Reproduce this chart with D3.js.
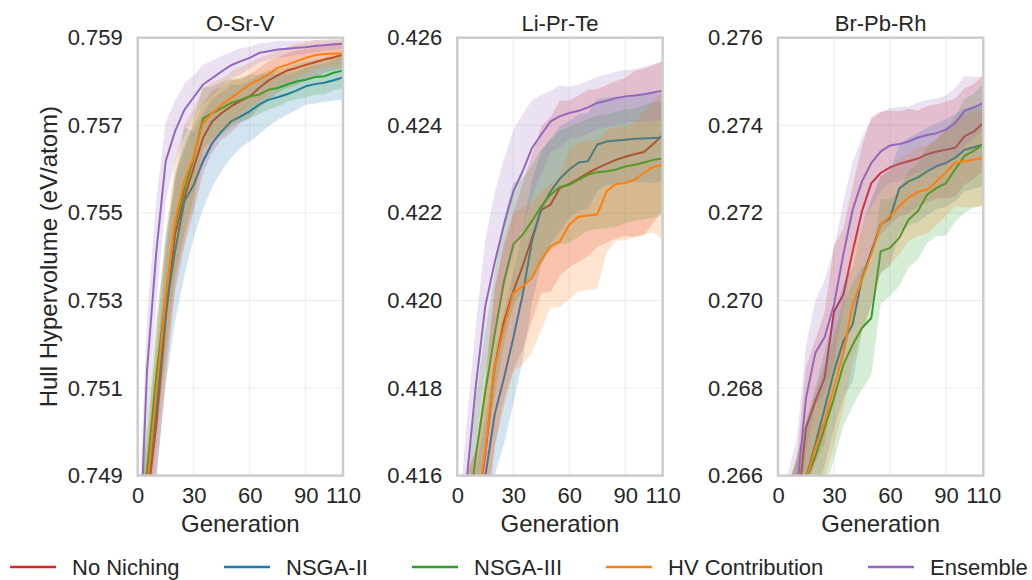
<!DOCTYPE html>
<html>
<head>
<meta charset="utf-8">
<script src="https://cdn.jsdelivr.net/npm/d3@7"></script>
<style>
  html, body { margin: 0; padding: 0; background: #ffffff; }
  svg { display: block; font-family: "Liberation Sans", Arial, sans-serif; }
</style>
</head>
<body>
<svg id="chart" width="1032" height="580"></svg>
<script>
// Generations at which the mean hull hypervolume is recorded
const generations = [0, 5, 10, 15, 20, 25, 30, 35, 40, 45, 50, 55, 60, 65, 70, 75, 80, 85, 90, 95, 100, 105, 110];

const methodNames = ["No Niching", "NSGA-II", "NSGA-III", "HV Contribution", "Ensemble"];
const methodColors = ["#d62728", "#1f77b4", "#2ca02c", "#ff7f0e", "#9467bd"];

const xTicks = [0, 30, 60, 90, 110];

// ---- O-Sr-V ----
const osrvTicks = [0.749, 0.751, 0.753, 0.755, 0.757, 0.759];
const osrvNoNiching = [0.7470, 0.7484, 0.75016, 0.75259, 0.7545, 0.75534, 0.75603, 0.75671, 0.75709, 0.75728, 0.75743, 0.75755, 0.75766, 0.75785, 0.75802, 0.75814, 0.75825, 0.75831, 0.75838, 0.75844, 0.7585, 0.75855, 0.75861];
const osrvNoNichingSpread = [0.0010, 0.0010, 0.0013, 0.0014, 0.0013, 0.0011, 0.0010, 0.0008, 0.0007, 0.0006, 0.0006, 0.0005, 0.0005, 0.00045, 0.00045, 0.0004, 0.0004, 0.0004, 0.00035, 0.00035, 0.0003, 0.0003, 0.0003];
const osrvNsga2 = [0.7470, 0.7487, 0.75054, 0.75275, 0.75412, 0.75526, 0.75564, 0.75618, 0.7566, 0.75686, 0.75709, 0.7572, 0.75732, 0.75747, 0.75758, 0.75764, 0.75771, 0.75779, 0.75789, 0.75794, 0.75797, 0.75803, 0.75809];
const osrvNsga2Spread = [0.0010, 0.0012, 0.0015, 0.0017, 0.0016, 0.0017, 0.0012, 0.0011, 0.0010, 0.0009, 0.00084, 0.00072, 0.00069, 0.00068, 0.0006, 0.00052, 0.00047, 0.00044, 0.00042, 0.00044, 0.00043, 0.00047, 0.0005];
const osrvNsga3 = [0.7470, 0.7491, 0.75131, 0.75305, 0.75473, 0.75553, 0.75625, 0.75716, 0.75728, 0.75739, 0.75751, 0.75758, 0.75766, 0.7577, 0.75781, 0.75785, 0.75793, 0.758, 0.75804, 0.7581, 0.75812, 0.7582, 0.75825];
const osrvNsga3Spread = [0.0010, 0.0012, 0.0013, 0.0013, 0.0012, 0.0010, 0.0009, 0.0007, 0.0006, 0.0006, 0.00055, 0.0005, 0.0005, 0.00045, 0.00045, 0.00042, 0.0004, 0.0004, 0.00041, 0.0004, 0.00042, 0.0004, 0.00041];
const osrvHv = [0.7470, 0.7487, 0.75092, 0.75305, 0.75481, 0.75572, 0.75629, 0.75705, 0.75728, 0.75747, 0.75762, 0.75778, 0.75793, 0.75804, 0.75816, 0.75831, 0.75838, 0.75846, 0.75854, 0.7586, 0.75863, 0.75864, 0.75864];
const osrvHvSpread = [0.0010, 0.0012, 0.0014, 0.0015, 0.0014, 0.0013, 0.0011, 0.0008, 0.0007, 0.0006, 0.0006, 0.00055, 0.0005, 0.0005, 0.00045, 0.0004, 0.0004, 0.0004, 0.00035, 0.00035, 0.0003, 0.0003, 0.0003];
const osrvEnsemble = [0.7462, 0.7514, 0.75412, 0.75618, 0.75686, 0.75735, 0.75764, 0.75793, 0.75808, 0.75823, 0.75837, 0.75846, 0.75854, 0.75865, 0.75869, 0.75873, 0.75875, 0.75877, 0.75878, 0.75881, 0.75883, 0.75885, 0.75886];
const osrvEnsembleSpread = [0.0012, 0.0012, 0.0012, 0.0009, 0.0007, 0.0006, 0.0005, 0.00045, 0.0004, 0.00035, 0.0003, 0.0003, 0.00025, 0.00022, 0.0002, 0.0002, 0.00018, 0.00016, 0.00015, 0.00014, 0.00013, 0.00012, 0.00012];

// ---- Li-Pr-Te ----
const liprteTicks = [0.416, 0.418, 0.420, 0.422, 0.424, 0.426];
const liprteNoNiching = [0.4140, 0.4145, 0.4150, 0.41648, 0.41846, 0.41952, 0.42021, 0.42078, 0.42143, 0.42207, 0.42219, 0.42257, 0.42266, 0.42278, 0.42291, 0.42302, 0.42312, 0.42321, 0.42328, 0.42334, 0.42339, 0.42357, 0.42378];
const liprteNoNichingSpread = [0.0015, 0.0015, 0.0016, 0.0017, 0.0018, 0.0018, 0.0018, 0.0019, 0.0019, 0.0019, 0.002, 0.002, 0.0019, 0.0019, 0.0019, 0.0018, 0.0018, 0.0018, 0.0018, 0.0019, 0.0019, 0.0018, 0.0017];
const liprteNsga2 = [0.4140, 0.4145, 0.4150, 0.41598, 0.41739, 0.41823, 0.41914, 0.42013, 0.42135, 0.42211, 0.42249, 0.42278, 0.42299, 0.42315, 0.42318, 0.42356, 0.42363, 0.42365, 0.42367, 0.42369, 0.4237, 0.42371, 0.42372];
const liprteNsga2Spread = [0.0012, 0.0012, 0.0012, 0.0013, 0.0014, 0.0015, 0.0015, 0.0015, 0.0014, 0.0013, 0.0012, 0.0012, 0.0011, 0.0011, 0.0011, 0.00105, 0.001, 0.001, 0.001, 0.00098, 0.001, 0.00102, 0.001];
const liprteNsga3 = [0.4140, 0.4148, 0.41648, 0.41792, 0.41922, 0.42044, 0.42128, 0.4215, 0.42181, 0.42215, 0.42242, 0.42259, 0.42264, 0.42276, 0.42287, 0.42293, 0.42295, 0.42299, 0.42306, 0.4231, 0.42315, 0.42321, 0.42324];
const liprteNsga3Spread = [0.0012, 0.0012, 0.0013, 0.0014, 0.0014, 0.00145, 0.0014, 0.0013, 0.00128, 0.0013, 0.00125, 0.0013, 0.00132, 0.0013, 0.00128, 0.0013, 0.0013, 0.00132, 0.0013, 0.00128, 0.0013, 0.00132, 0.0013];
const liprteHv = [0.4140, 0.4145, 0.4150, 0.41655, 0.41846, 0.41937, 0.42017, 0.42032, 0.42051, 0.42093, 0.42124, 0.42135, 0.42173, 0.42191, 0.42194, 0.42196, 0.42249, 0.42266, 0.42268, 0.42276, 0.42291, 0.42305, 0.4231];
const liprteHvSpread = [0.0015, 0.0015, 0.0016, 0.0017, 0.0018, 0.0018, 0.0018, 0.0018, 0.0017, 0.0016, 0.0014, 0.0015, 0.0017, 0.0017, 0.0017, 0.0017, 0.0014, 0.0013, 0.0013, 0.0013, 0.0014, 0.0015, 0.0017];
const liprteEnsemble = [0.4135, 0.41588, 0.41808, 0.41987, 0.42086, 0.42173, 0.42249, 0.42295, 0.42348, 0.42379, 0.42409, 0.42421, 0.42428, 0.42433, 0.42441, 0.42451, 0.42456, 0.42462, 0.42466, 0.42468, 0.42471, 0.42475, 0.42479];
const liprteEnsembleSpread = [0.0012, 0.0013, 0.0014, 0.0015, 0.0016, 0.0015, 0.0014, 0.0013, 0.0011, 0.0009, 0.0007, 0.0007, 0.0006, 0.0006, 0.0006, 0.0006, 0.0006, 0.0006, 0.0006, 0.0006, 0.00062, 0.00065, 0.00065];

// ---- Br-Pb-Rh ----
const brpbrhTicks = [0.266, 0.268, 0.270, 0.272, 0.274, 0.276];
const brpbrhNoNiching = [0.2640, 0.2645, 0.2650, 0.26709, 0.2677, 0.26824, 0.26975, 0.27013, 0.27112, 0.27204, 0.27268, 0.27291, 0.27304, 0.27312, 0.27318, 0.27324, 0.27334, 0.2734, 0.27344, 0.27349, 0.27375, 0.27386, 0.27405];
const brpbrhNoNichingSpread = [0.0012, 0.0012, 0.0013, 0.0014, 0.0014, 0.0015, 0.0015, 0.0015, 0.0015, 0.0015, 0.0015, 0.0014, 0.0013, 0.0012, 0.0012, 0.0011, 0.0011, 0.00108, 0.0011, 0.00112, 0.0011, 0.00108, 0.0011];
const brpbrhNsga2 = [0.2640, 0.2645, 0.2652, 0.26595, 0.26671, 0.26754, 0.26838, 0.26907, 0.26945, 0.27051, 0.27112, 0.27173, 0.27188, 0.27256, 0.27272, 0.27281, 0.27295, 0.27307, 0.27314, 0.27326, 0.27344, 0.2735, 0.27356];
const brpbrhNsga2Spread = [0.0012, 0.0012, 0.0012, 0.0013, 0.0013, 0.0013, 0.0013, 0.0013, 0.0013, 0.0012, 0.0012, 0.0011, 0.0011, 0.001, 0.001, 0.00102, 0.001, 0.00098, 0.001, 0.001, 0.00095, 0.00095, 0.00095];
const brpbrhNsga3 = [0.2640, 0.2645, 0.2652, 0.2659, 0.26644, 0.26709, 0.26777, 0.26853, 0.26899, 0.26937, 0.2696, 0.27112, 0.2712, 0.27143, 0.27185, 0.27204, 0.27242, 0.27257, 0.27268, 0.273, 0.2733, 0.27342, 0.27357];
const brpbrhNsga3Spread = [0.0012, 0.0012, 0.0012, 0.0013, 0.0014, 0.0014, 0.0014, 0.0014, 0.0014, 0.0014, 0.0013, 0.0012, 0.0011, 0.0011, 0.0011, 0.0011, 0.0011, 0.0011, 0.0012, 0.0012, 0.0013, 0.0013, 0.0014];
const brpbrhHv = [0.2640, 0.2645, 0.2652, 0.2659, 0.26663, 0.26724, 0.26801, 0.2688, 0.2699, 0.27047, 0.27105, 0.27173, 0.27192, 0.27215, 0.27235, 0.27248, 0.27253, 0.27272, 0.27293, 0.27315, 0.27318, 0.27322, 0.27325];
const brpbrhHvSpread = [0.0012, 0.0012, 0.0012, 0.0013, 0.0013, 0.0013, 0.0013, 0.0013, 0.0013, 0.0012, 0.0012, 0.0011, 0.0011, 0.0011, 0.001, 0.001, 0.001, 0.001, 0.001, 0.001, 0.00105, 0.0011, 0.0011];
const brpbrhEnsemble = [0.2640, 0.2648, 0.2656, 0.26777, 0.2688, 0.26916, 0.2699, 0.27105, 0.27207, 0.27272, 0.27314, 0.2734, 0.27354, 0.27357, 0.27363, 0.27372, 0.27378, 0.27382, 0.2739, 0.27405, 0.27433, 0.27441, 0.27451];
const brpbrhEnsembleSpread = [0.0012, 0.0012, 0.0012, 0.0012, 0.0012, 0.0013, 0.0013, 0.0012, 0.0011, 0.001, 0.001, 0.0009, 0.00085, 0.00085, 0.0008, 0.0008, 0.0008, 0.0008, 0.00078, 0.0008, 0.0008, 0.0007, 0.0006];

const panels = [
  { title: "O-Sr-V", ticks: osrvTicks,
    means: [osrvNoNiching, osrvNsga2, osrvNsga3, osrvHv, osrvEnsemble],
    spreads: [osrvNoNichingSpread, osrvNsga2Spread, osrvNsga3Spread, osrvHvSpread, osrvEnsembleSpread] },
  { title: "Li-Pr-Te", ticks: liprteTicks,
    means: [liprteNoNiching, liprteNsga2, liprteNsga3, liprteHv, liprteEnsemble],
    spreads: [liprteNoNichingSpread, liprteNsga2Spread, liprteNsga3Spread, liprteHvSpread, liprteEnsembleSpread] },
  { title: "Br-Pb-Rh", ticks: brpbrhTicks,
    means: [brpbrhNoNiching, brpbrhNsga2, brpbrhNsga3, brpbrhHv, brpbrhEnsemble],
    spreads: [brpbrhNoNichingSpread, brpbrhNsga2Spread, brpbrhNsga3Spread, brpbrhHvSpread, brpbrhEnsembleSpread] }
];

// ---- layout ----
const panelLefts = [137.7, 457.3, 778];
const panelWidth = 205.3;
const plotTop = 37.7, plotBottom = 475.6;
const textColor = "#262626";
const fontSize = 22;
const labelSize = 24;

const svg = d3.select("#chart");
const defs = svg.append("defs");

panels.forEach((p, pi) => {
  const left = panelLefts[pi];
  const x = d3.scaleLinear().domain([0, 110]).range([left, left + panelWidth]);
  const y = d3.scaleLinear().domain([p.ticks[0], p.ticks[p.ticks.length - 1]]).range([plotBottom, plotTop]);

  const clipId = "clip" + pi;
  defs.append("clipPath").attr("id", clipId)
    .append("rect")
    .attr("x", left).attr("y", plotTop)
    .attr("width", panelWidth).attr("height", plotBottom - plotTop);

  const g = svg.append("g");

  // grid
  const grid = g.append("g");
  grid.selectAll("line.gx").data(xTicks).join("line")
    .attr("x1", d => x(d)).attr("x2", d => x(d))
    .attr("y1", plotTop).attr("y2", plotBottom)
    .attr("stroke", "#ececec").attr("stroke-width", 1);
  grid.selectAll("line.gy").data(p.ticks).join("line")
    .attr("x1", left).attr("x2", left + panelWidth)
    .attr("y1", d => y(d)).attr("y2", d => y(d))
    .attr("stroke", "#ececec").attr("stroke-width", 1);

  // series: band then mean line, in legend order
  const plot = g.append("g").attr("clip-path", `url(#${clipId})`);
  p.means.forEach((mean, si) => {
    const rows = generations.map((gen, i) => ({ gen, m: mean[i], s: p.spreads[si][i] }));
    const area = d3.area()
      .x(d => x(d.gen))
      .y0(d => y(d.m - d.s))
      .y1(d => y(d.m + d.s));
    const line = d3.line()
      .x(d => x(d.gen))
      .y(d => y(d.m));
    plot.append("path").datum(rows)
      .attr("d", area)
      .attr("fill", methodColors[si])
      .attr("fill-opacity", 0.2)
      .attr("stroke", "none");
    plot.append("path").datum(rows)
      .attr("d", line)
      .attr("fill", "none")
      .attr("stroke", methodColors[si])
      .attr("stroke-width", 2)
      .attr("stroke-linejoin", "round");
  });

  // frame
  g.append("rect")
    .attr("x", left).attr("y", plotTop)
    .attr("width", panelWidth).attr("height", plotBottom - plotTop)
    .attr("fill", "none").attr("stroke", "#cccccc").attr("stroke-width", 2.5);

  // x axis
  const xAxis = d3.axisBottom(x).tickValues(xTicks).tickSize(0).tickPadding(12).tickFormat(d3.format("d"));
  const xg = g.append("g").attr("transform", `translate(0,${plotBottom})`).call(xAxis);
  xg.select(".domain").remove();
  xg.selectAll("text").attr("fill", textColor).attr("font-size", fontSize)
    .attr("font-family", "Liberation Sans, Arial, sans-serif");

  // y axis
  const yAxis = d3.axisLeft(y).tickValues(p.ticks).tickSize(0).tickPadding(15).tickFormat(d3.format(".3f"));
  const yg = g.append("g").attr("transform", `translate(${left},0)`).call(yAxis);
  yg.select(".domain").remove();
  yg.selectAll("text").attr("fill", textColor).attr("font-size", fontSize)
    .attr("font-family", "Liberation Sans, Arial, sans-serif");

  // title
  g.append("text")
    .attr("x", left + panelWidth / 2).attr("y", 31)
    .attr("text-anchor", "middle")
    .attr("fill", textColor).attr("font-size", fontSize)
    .text(p.title);

  // x label
  g.append("text")
    .attr("x", left + panelWidth / 2).attr("y", 532)
    .attr("text-anchor", "middle")
    .attr("fill", textColor).attr("font-size", labelSize)
    .text("Generation");
});

// y label
svg.append("text")
  .attr("transform", `translate(57,${(plotTop + plotBottom) / 2}) rotate(-90)`)
  .attr("text-anchor", "middle")
  .attr("fill", textColor).attr("font-size", labelSize)
  .text("Hull Hypervolume (eV/atom)");

// legend
const legendLineX = [10, 224, 412, 606, 868];
const legend = svg.append("g");
methodNames.forEach((name, i) => {
  const lx = legendLineX[i];
  legend.append("line")
    .attr("x1", lx).attr("x2", lx + 46)
    .attr("y1", 567).attr("y2", 567)
    .attr("stroke", methodColors[i]).attr("stroke-width", 2.5);
  legend.append("text")
    .attr("x", lx + 62).attr("y", 575)
    .attr("fill", textColor).attr("font-size", fontSize)
    .text(name);
});
</script>
</body>
</html>
